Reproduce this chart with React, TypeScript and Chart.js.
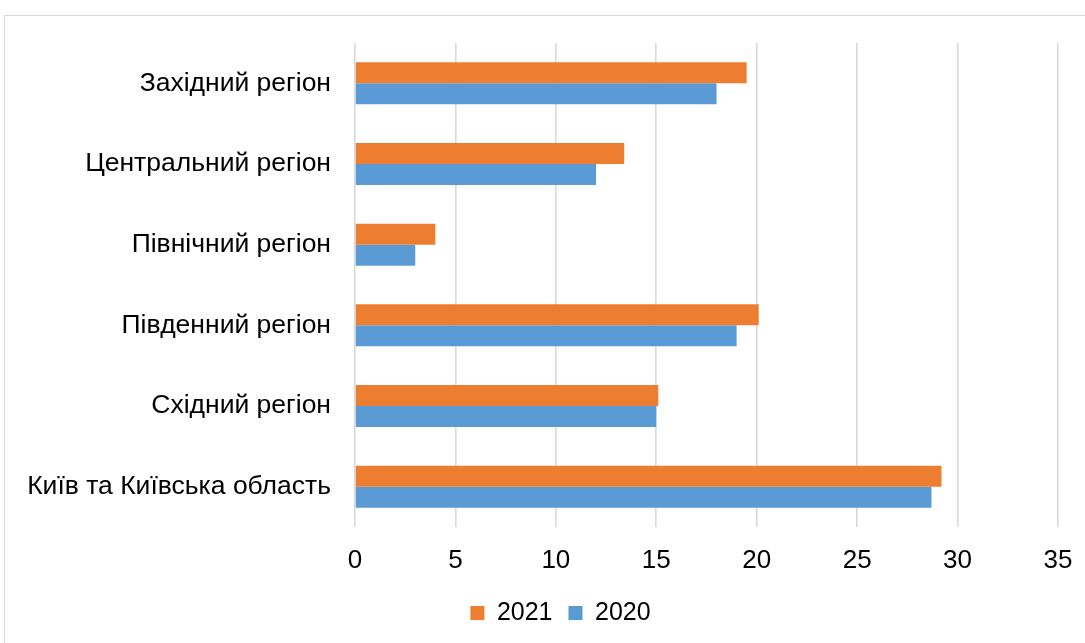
import React, { useEffect, useRef } from 'react';
import { Chart, registerables } from 'chart.js';

Chart.register(...registerables);

const categories = [
  'Західний регіон',
  'Центральний регіон',
  'Північний регіон',
  'Південний регіон',
  'Східний регіон',
  'Київ та Київська область',
];
const seriesNames = ['2021', '2020'];
const values2021 = [19.5, 13.4, 4.0, 20.1, 15.1, 29.2];
const values2020 = [18.0, 12.0, 3.0, 19.0, 15.0, 28.7];
const xMin = 0;
const xMax = 35;
const xStep = 5;

const ORANGE = '#ED7D31';
const BLUE = '#5B9BD5';
const FONT = "'Liberation Sans', Arial, sans-serif";

const legendShift = {
  id: 'legendShift',
  afterLayout(chart: any) {
    const l = chart.legend;
    if (l) {
      const dx = 31.5;
      l.left += dx;
      l.right += dx;
    }
  },
};

export default function App() {
  const ref = useRef<HTMLCanvasElement | null>(null);

  useEffect(() => {
    document.body.style.margin = '0';
    document.body.style.overflow = 'hidden';
    if (!ref.current) return;
    const chart = new Chart(ref.current, {
      type: 'bar',
      data: {
        labels: categories,
        datasets: [
          {
            label: seriesNames[0],
            data: values2021,
            backgroundColor: ORANGE,
            borderWidth: 0,
            categoryPercentage: 0.52,
            barPercentage: 1,
          },
          {
            label: seriesNames[1],
            data: values2020,
            backgroundColor: BLUE,
            borderWidth: 0,
            categoryPercentage: 0.52,
            barPercentage: 1,
          },
        ],
      },
      options: {
        indexAxis: 'y',
        responsive: false,
        animation: false,
        layout: { padding: { top: 43, right: 27, left: 0, bottom: 7.5 } },
        scales: {
          x: {
            min: xMin,
            max: xMax,
            ticks: {
              stepSize: xStep,
              color: '#000',
              font: { family: FONT, size: 26 },
              padding: 18,
            },
            grid: { color: '#d9d9d9', lineWidth: 1.6, drawTicks: false },
            border: { display: false },
            afterFit(scale: any) {
              scale.height = 57.5;
              scale.paddingLeft = 0;
              scale.paddingRight = 0;
            },
          },
          y: {
            ticks: {
              color: '#000',
              font: { family: FONT, size: 26.5 },
              padding: 24,
            },
            grid: { display: false, drawTicks: false },
            border: { display: false },
            afterFit(scale: any) {
              scale.width = 355;
              scale.paddingTop = 0;
              scale.paddingBottom = 0;
            },
          },
        },
        plugins: {
          legend: {
            position: 'bottom',
            labels: {
              boxWidth: 14,
              boxHeight: 14,
              padding: 16,
              color: '#000',
              font: { family: FONT, size: 25 },
            },
          },
          tooltip: { enabled: false },
        },
      },
      plugins: [legendShift],
    });
    return () => chart.destroy();
  }, []);

  return (
    <div
      style={{
        position: 'fixed',
        left: 0,
        top: 0,
        width: 1085,
        height: 643,
        overflow: 'hidden',
        background: '#fff',
      }}
    >
      <div
        style={{
          position: 'absolute',
          left: 4,
          top: 15,
          width: 1200,
          height: 800,
          border: '1px solid #d9d9d9',
          boxSizing: 'border-box',
        }}
      />
      <canvas
        ref={ref}
        width={1085}
        height={643}
        style={{ position: 'absolute', left: 0, top: 0, width: 1085, height: 643 }}
      />
    </div>
  );
}
